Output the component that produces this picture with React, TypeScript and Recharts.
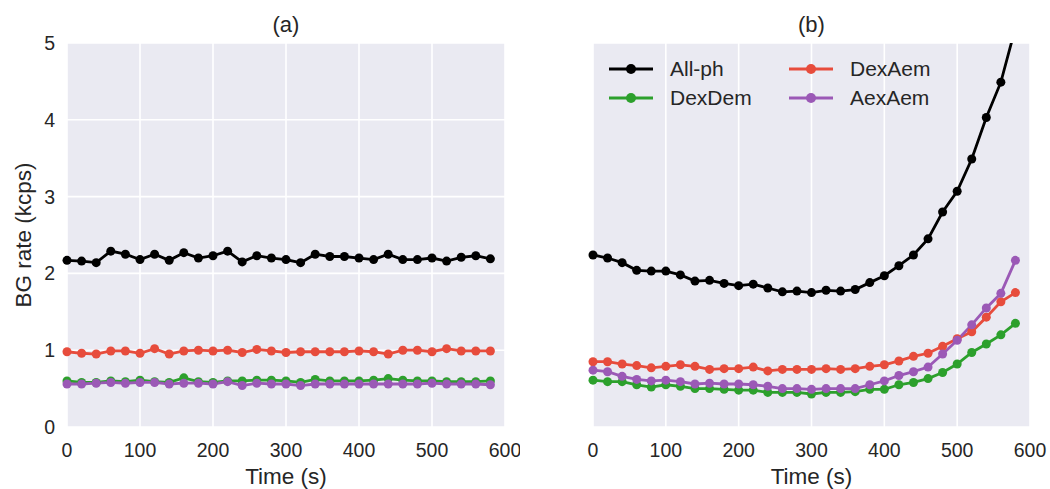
import React from 'react';
import { LineChart, Line, XAxis, YAxis, CartesianGrid, Label } from 'recharts';

const times = [0, 20, 40, 60, 80, 100, 120, 140, 160, 180, 200, 220, 240, 260, 280, 300, 320, 340, 360, 380, 400, 420, 440, 460, 480, 500, 520, 540, 560, 580];

// panel (a): stationary background
const allPhA = [2.17, 2.16, 2.14, 2.29, 2.25, 2.18, 2.25, 2.17, 2.27, 2.2, 2.23, 2.29, 2.15, 2.23, 2.2, 2.18, 2.14, 2.25, 2.22, 2.22, 2.2, 2.18, 2.25, 2.18, 2.18, 2.2, 2.16, 2.21, 2.23, 2.19];
const dexDemA = [0.6, 0.58, 0.58, 0.6, 0.59, 0.61, 0.59, 0.58, 0.64, 0.59, 0.58, 0.6, 0.6, 0.61, 0.61, 0.6, 0.58, 0.62, 0.6, 0.6, 0.6, 0.61, 0.63, 0.61, 0.6, 0.6, 0.59, 0.59, 0.59, 0.6];
const dexAemA = [0.98, 0.96, 0.95, 0.99, 0.99, 0.96, 1.02, 0.95, 0.99, 1.0, 0.99, 1.0, 0.97, 1.01, 0.99, 0.97, 0.98, 0.98, 0.98, 0.98, 0.99, 0.98, 0.95, 1.0, 1.0, 0.98, 1.02, 0.99, 0.99, 0.99];
const aexAemA = [0.56, 0.56, 0.57, 0.58, 0.57, 0.58, 0.58, 0.56, 0.57, 0.57, 0.56, 0.59, 0.54, 0.57, 0.56, 0.56, 0.54, 0.56, 0.56, 0.56, 0.56, 0.56, 0.56, 0.56, 0.56, 0.57, 0.56, 0.56, 0.56, 0.55];

// panel (b): background rising at the end
const allPhB = [2.24, 2.2, 2.14, 2.04, 2.03, 2.03, 1.98, 1.9, 1.91, 1.87, 1.84, 1.86, 1.81, 1.76, 1.77, 1.75, 1.78, 1.77, 1.79, 1.88, 1.97, 2.1, 2.24, 2.45, 2.8, 3.07, 3.49, 4.03, 4.49, 5.2];
const dexDemB = [0.61, 0.59, 0.59, 0.55, 0.52, 0.55, 0.53, 0.5, 0.5, 0.49, 0.48, 0.48, 0.45, 0.45, 0.45, 0.43, 0.45, 0.45, 0.46, 0.49, 0.49, 0.55, 0.58, 0.63, 0.71, 0.82, 0.97, 1.08, 1.2, 1.35];
const dexAemB = [0.85, 0.85, 0.82, 0.8, 0.77, 0.79, 0.81, 0.79, 0.75, 0.76, 0.76, 0.78, 0.73, 0.75, 0.75, 0.75, 0.76, 0.75, 0.76, 0.79, 0.81, 0.86, 0.92, 0.96, 1.05, 1.15, 1.24, 1.43, 1.63, 1.75];
const aexAemB = [0.74, 0.72, 0.66, 0.62, 0.6, 0.61, 0.59, 0.56, 0.57, 0.56, 0.56, 0.55, 0.53, 0.5, 0.5, 0.49, 0.5, 0.5, 0.5, 0.55, 0.6, 0.67, 0.72, 0.78, 0.95, 1.13, 1.33, 1.55, 1.74, 2.17];

const xTicks = [0, 100, 200, 300, 400, 500, 600];
const yTicks = [0, 1, 2, 3, 4, 5];

const series = [
    { key: 'allPh', name: 'All-ph', color: '#000000' },
    { key: 'dexDem', name: 'DexDem', color: '#2ca02c' },
    { key: 'dexAem', name: 'DexAem', color: '#e74c3c' },
    { key: 'aexAem', name: 'AexAem', color: '#9b59b6' },
];

const rowsA = times.map((t, i) => ({ t, allPh: allPhA[i], dexDem: dexDemA[i], dexAem: dexAemA[i], aexAem: aexAemA[i] }));
const rowsB = times.map((t, i) => ({ t, allPh: allPhB[i], dexDem: dexDemB[i], dexAem: dexAemB[i], aexAem: aexAemB[i] }));

const FONT = '"Liberation Sans", Arial, sans-serif';
const TEXT = '#262626';
const TICK = 19.5;
const LABEL = 22.5;

// legend drawn over panel (b), two columns like matplotlib ncol=2
const LegendBox = () => (
    <div style={{ position: 'absolute', left: 609, top: 55, display: 'grid', gridTemplateColumns: '180px 180px', fontFamily: FONT, fontSize: 21, color: TEXT }}>
        {[0, 2, 1, 3].map(i => (
            <div key={series[i].key} style={{ display: 'flex', alignItems: 'center', height: 28.5 }}>
                <svg width={44} height={14} style={{ marginRight: 17, flex: 'none' }}>
                    <line x1={0} y1={7} x2={44} y2={7} stroke={series[i].color} strokeWidth={3} />
                    <circle cx={22} cy={7} r={5} fill={series[i].color} />
                </svg>
                <span>{series[i].name}</span>
            </div>
        ))}
    </div>
);

const Panel = ({ data, showY }: { data: any[]; showY: boolean }) => (
    <LineChart
        width={520}
        height={489}
        data={data}
        margin={{ top: 43, right: showY ? 15 : 20, bottom: 0, left: showY ? 37 : 63 }}
        style={{ fontFamily: FONT }}
    >
        <CartesianGrid fill="#eaeaf2" stroke="#ffffff" strokeWidth={1.6} />
        <XAxis
            dataKey="t"
            type="number"
            domain={[0, 600]}
            ticks={xTicks}
            axisLine={false}
            tickLine={false}
            tickMargin={10}
            height={62}
            tick={{ fill: TEXT, fontSize: TICK }}
        >
            <Label value="Time (s)" position="insideBottom" offset={5} style={{ fill: TEXT, fontSize: LABEL }} />
        </XAxis>
        <YAxis
            type="number"
            domain={[0, 5]}
            ticks={yTicks}
            allowDataOverflow
            axisLine={false}
            tickLine={false}
            tickMargin={6}
            width={showY ? 30 : 0}
            tick={showY ? { fill: TEXT, fontSize: TICK } : false}
        >
            {showY && <Label value="BG rate (kcps)" angle={-90} position="insideLeft" offset={-14} style={{ fill: TEXT, fontSize: LABEL, textAnchor: 'middle' }} />}
        </YAxis>
        {series.map(s => (
            <Line
                key={s.key}
                type="linear"
                dataKey={s.key}
                name={s.name}
                stroke={s.color}
                strokeWidth={2.8}
                dot={{ r: 4.5, fill: s.color, stroke: 'none' }}
                isAnimationActive={false}
            />
        ))}
    </LineChart>
);

export default function App() {
    return (
        <div style={{ position: 'absolute', left: 0, top: 0, width: 1050, height: 489, background: '#fff' }}>
            <div style={{ position: 'absolute', left: 0, top: 0 }}>
                <Panel data={rowsA} showY={true} />
            </div>
            <div style={{ position: 'absolute', left: 530, top: 0 }}>
                <Panel data={rowsB} showY={false} />
            </div>
            <div style={{ position: 'absolute', left: 67, width: 438, top: 12, textAlign: 'center', fontFamily: FONT, fontSize: 22, color: TEXT }}>(a)</div>
            <div style={{ position: 'absolute', left: 593, width: 437, top: 12, textAlign: 'center', fontFamily: FONT, fontSize: 22, color: TEXT }}>(b)</div>
            <LegendBox />
        </div>
    );
}
